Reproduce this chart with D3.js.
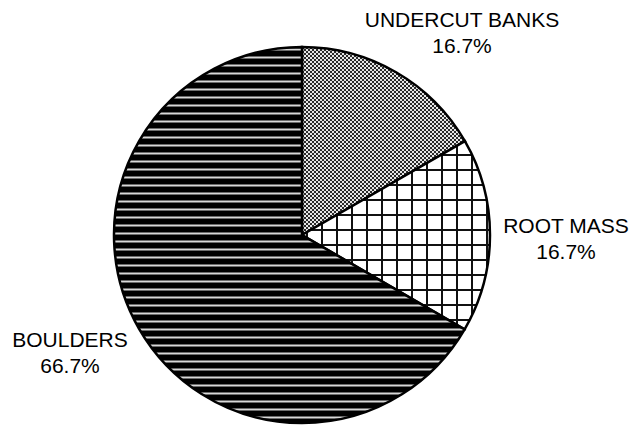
<!DOCTYPE html>
<html><head><meta charset="utf-8">
<script src="https://cdn.jsdelivr.net/npm/d3@7"></script>
<style>html,body{margin:0;padding:0;background:#fff;}svg{display:block;}</style>
</head><body>
<script>
const categories = ["UNDERCUT BANKS", "ROOT MASS", "BOULDERS"];
const values = [16.7, 16.7, 66.7];
const percentLabels = ["16.7%", "16.7%", "66.7%"];

const W = 633, H = 425;
const cx = 302, cy = 235, R = 188;
// label block centers relative to pie center (layout only)
const labelOffsets = [[160, -203], [264, 3], [-232, 117]];
const fills = ["url(#checker)", "url(#grid)", "url(#stripes)"];

const svg = d3.select("body").append("svg").attr("width", W).attr("height", H);
const defs = svg.append("defs");

const checker = defs.append("pattern").attr("id", "checker")
  .attr("patternUnits", "userSpaceOnUse").attr("width", 4).attr("height", 4);
checker.append("rect").attr("width", 4).attr("height", 4).attr("fill", "#e6e6e6");
checker.append("rect").attr("width", 2).attr("height", 2).attr("fill", "#2a2a2a");
checker.append("rect").attr("x", 2).attr("y", 2).attr("width", 2).attr("height", 2).attr("fill", "#2a2a2a");

const grid = defs.append("pattern").attr("id", "grid")
  .attr("patternUnits", "userSpaceOnUse").attr("width", 15).attr("height", 15)
  .attr("x", 4).attr("y", 9);
grid.append("rect").attr("width", 15).attr("height", 15).attr("fill", "#fff");
grid.append("rect").attr("x", 0).attr("y", 0).attr("width", 2).attr("height", 15).attr("fill", "#111");
grid.append("rect").attr("x", 0).attr("y", 0).attr("width", 15).attr("height", 2).attr("fill", "#111");

const stripes = defs.append("pattern").attr("id", "stripes")
  .attr("patternUnits", "userSpaceOnUse").attr("width", 8).attr("height", 8);
stripes.append("rect").attr("width", 8).attr("height", 8).attr("fill", "#000");
stripes.append("rect").attr("y", 5.5).attr("width", 8).attr("height", 2).attr("fill", "#d8d8d8");

const pie = d3.pie().sort(null).value(d => d);
const arcs = pie(values);
const arc = d3.arc().innerRadius(0).outerRadius(R);

const g = svg.append("g").attr("transform", `translate(${cx},${cy})`);
g.selectAll("path").data(arcs).enter().append("path")
  .attr("d", arc)
  .attr("fill", (d, i) => fills[i])
  .attr("stroke", "#000").attr("stroke-width", 2.5).attr("stroke-linejoin", "miter");

const labels = g.selectAll("text.lbl").data(arcs).enter().append("text")
  .attr("class", "lbl")
  .attr("text-anchor", "middle")
  .attr("font-family", "Liberation Sans, Arial, sans-serif")
  .attr("font-size", 21)
  .attr("fill", "#000")
  .attr("transform", (d, i) => `translate(${labelOffsets[i][0]},${labelOffsets[i][1]})`);
labels.append("tspan").attr("x", 0).attr("y", -5).text((d, i) => categories[i]);
labels.append("tspan").attr("x", 0).attr("y", 21).text((d, i) => percentLabels[i]);
</script>
</body></html>
